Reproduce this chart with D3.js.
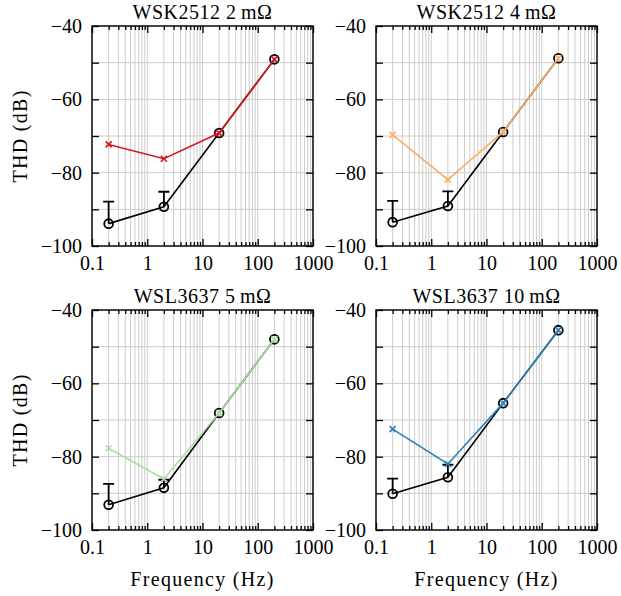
<!DOCTYPE html>
<html>
<head>
<meta charset="utf-8">
<script src="https://cdn.jsdelivr.net/npm/d3@7"></script>
<style>
	body { margin: 0; background: #fff; }
	svg text { font-family: "Liberation Serif", "Times New Roman", serif; font-size: 20px; fill: #000; }
	.label { letter-spacing: 1.3px; }
	.title { letter-spacing: 0.5px; }
</style>
</head>
<body>
<script>
//////////
// DATA //
//////////

// Test frequencies (Hz), the same for every panel
var freqs = [0.2, 2, 20, 200];

// One panel per shunt resistor
var panelTitles = ["WSK2512 2\u2009m\u03A9", "WSK2512 4\u2009m\u03A9", "WSL3637 5\u2009m\u03A9", "WSL3637 10\u2009m\u03A9"];

// Reference measurement (black, circles), THD in dB
var refThd = [
	[-93.9, -89.3, -69.2, -49.1],
	[-93.5, -89.1, -68.9, -48.8],
	[-93.1, -88.5, -68.1, -48.0],
	[-90.1, -85.6, -65.4, -45.5]
];
// Upper end of the reference error bars (null = no bar)
var refErrTop = [
	[-87.9, -85.2, null, null],
	[-87.7, -85.1, null, null],
	[-87.4, -86.3, null, null],
	[-86.0, -82.2, null, null]
];

// Shunt measurement (coloured, crosses), THD in dB
var shuntThd = [
	[-72.3, -76.2, -69.2, -49.1],
	[-69.7, -81.9, -68.9, -48.8],
	[-77.7, -86.1, -68.1, -48.0],
	[-72.5, -82.0, -65.4, -45.5]
];

// Axis ticks
var xTicks = [0.1, 1, 10, 100, 1000];
var xTickLabels = ["0.1", "1", "10", "100", "1000"];
var yTicks = [-100, -80, -60, -40];
var yMinorTicks = [-90, -70, -50];

// Series colours
var shuntColors = ["#d7191c", "#fdae61", "#abdda4", "#2b83ba"];

////////////
// LAYOUT //
////////////

var panelW = 221, panelH = 220;
var panelLeft = [92, 376];
var panelTop = [26, 310];

var svg = d3.select("body").append("svg")
	.attr("width", 621)
	.attr("height", 596);

var x = d3.scaleLog()
	.domain([0.1, 1000])
	.range([0, panelW]);
var y = d3.scaleLinear()
	.domain([-100, -40])
	.range([panelH, 0]);

// minor x positions: 2..9 within each decade
var xMinor = [];
[0.1, 1, 10, 100].forEach(function(dec) {
	for (var k = 2; k <= 9; k++) xMinor.push(dec * k);
});

var line = d3.line()
	.x(function(d) { return x(d[0]); })
	.y(function(d) { return y(d[1]); });

panelTitles.forEach(function(title, p) {
	var col = p % 2, row = Math.floor(p / 2);
	var g = svg.append("g")
		.attr("transform", "translate(" + panelLeft[col] + "," + panelTop[row] + ")");

	// grid
	g.append("g").selectAll("line")
		.data(xMinor.concat(xTicks))
		.enter().append("line")
			.attr("x1", function(d) { return x(d); })
			.attr("x2", function(d) { return x(d); })
			.attr("y1", 0).attr("y2", panelH)
			.style("stroke", "#cccccc").style("stroke-width", 1);
	g.append("g").selectAll("line")
		.data(yTicks.concat(yMinorTicks))
		.enter().append("line")
			.attr("x1", 0).attr("x2", panelW)
			.attr("y1", function(d) { return y(d); })
			.attr("y2", function(d) { return y(d); })
			.style("stroke", "#cccccc").style("stroke-width", 1);

	// axes (ticks point inwards)
	var xb = g.append("g").attr("transform", "translate(0," + panelH + ")")
		.call(d3.axisBottom(x).tickValues(xTicks).tickSize(-7).tickPadding(10)
			.tickFormat(function(d, i) { return xTickLabels[i]; }));
	var xbm = g.append("g").attr("transform", "translate(0," + panelH + ")")
		.call(d3.axisBottom(x).tickValues(xMinor).tickSize(-4).tickFormat(""));
	var xt = g.append("g")
		.call(d3.axisTop(x).tickValues(xTicks).tickSize(-7).tickFormat(""));
	var xtm = g.append("g")
		.call(d3.axisTop(x).tickValues(xMinor).tickSize(-4).tickFormat(""));
	var yl = g.append("g")
		.call(d3.axisLeft(y).tickValues(yTicks.concat(yMinorTicks)).tickSize(-7).tickPadding(10)
			.tickFormat(function(d) { return yTicks.indexOf(d) >= 0 ? d3.format("d")(d) : ""; }));
	var yr = g.append("g").attr("transform", "translate(" + panelW + ",0)")
		.call(d3.axisRight(y).tickValues(yTicks.concat(yMinorTicks)).tickSize(-7).tickFormat(""));

	[xb, xbm, xt, xtm, yl, yr].forEach(function(a) {
		a.attr("font-family", null).attr("font-size", null);
		a.select(".domain").remove();
		a.selectAll("line").style("stroke", "#000").style("stroke-width", 1.3);
	});

	// reference series
	var refPts = freqs.map(function(f, i) { return [f, refThd[p][i]]; });
	g.append("path")
		.datum(refPts)
		.attr("d", line)
		.style("fill", "none").style("stroke", "#000").style("stroke-width", 1.6);

	var errs = freqs.map(function(f, i) { return [f, refThd[p][i], refErrTop[p][i]]; })
		.filter(function(d) { return d[2] !== null; });
	g.selectAll(".err")
		.data(errs)
		.enter().append("path")
			.attr("class", "err")
			.attr("d", function(d) {
				var cx = x(d[0]), y0 = y(d[1]), y1 = y(d[2]);
				return "M" + cx + "," + y0 + "V" + y1 + "M" + (cx - 5.5) + "," + y1 + "H" + (cx + 5.5);
			})
			.style("fill", "none").style("stroke", "#000").style("stroke-width", 1.8);

	g.selectAll(".dot")
		.data(refPts)
		.enter().append("circle")
			.attr("class", "dot")
			.attr("r", 4.4)
			.attr("cx", function(d) { return x(d[0]); })
			.attr("cy", function(d) { return y(d[1]); })
			.style("fill", "none").style("stroke", "#000").style("stroke-width", 1.8);

	// shunt series
	var shPts = freqs.map(function(f, i) { return [f, shuntThd[p][i]]; });
	g.append("path")
		.datum(shPts)
		.attr("d", line)
		.style("fill", "none").style("stroke", shuntColors[p]).style("stroke-width", 1.6);
	g.selectAll(".cross")
		.data(shPts)
		.enter().append("path")
			.attr("class", "cross")
			.attr("transform", function(d) { return "translate(" + x(d[0]) + "," + y(d[1]) + ")"; })
			.attr("d", "M-3,-3L3,3M-3,3L3,-3")
			.style("fill", "none").style("stroke", shuntColors[p]).style("stroke-width", 1.7);

	// frame
	g.append("rect")
		.attr("width", panelW).attr("height", panelH)
		.style("fill", "none").style("stroke", "#000").style("stroke-width", 1.4);

	// title
	g.append("text")
		.attr("class", "title")
		.attr("x", panelW / 2)
		.attr("y", -7)
		.style("text-anchor", "middle")
		.text(title);

	// axis labels on outer panels
	if (col === 0) {
		g.append("text")
			.attr("class", "label")
			.attr("transform", "translate(-65," + (panelH / 2) + ") rotate(-90)")
			.style("text-anchor", "middle")
			.text("THD (dB)");
	}
	if (row === 1) {
		g.append("text")
			.attr("class", "label")
			.attr("x", panelW / 2)
			.attr("y", panelH + 56)
			.style("text-anchor", "middle")
			.text("Frequency (Hz)");
	}
});
</script>
</body>
</html>
